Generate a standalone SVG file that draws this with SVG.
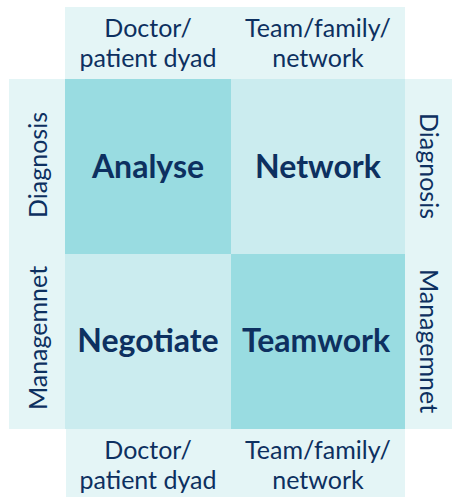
<svg xmlns="http://www.w3.org/2000/svg" width="452" height="497" viewBox="0 0 452 497">
<style>
.band{fill:#E4F5F6}
.dark{fill:#99DCE1}
.light{fill:#CBECEF}
.lab{font-family:Lato,"Liberation Sans",sans-serif;font-size:25px;fill:#0D3060;text-anchor:middle}
.big{font-family:Lato,"Liberation Sans",sans-serif;font-size:32px;font-weight:bold;fill:#0D3060;text-anchor:middle}
</style>
<rect width="452" height="497" fill="#ffffff"/>
<g id="top-band">
<rect class="band" x="65" y="7" width="340" height="72"/>
<text class="lab" x="148" y="37">Doctor/</text>
<text class="lab" x="148" y="67">patient dyad</text>
<text class="lab" x="318" y="37">Team/family/</text>
<text class="lab" x="318" y="67">network</text>
</g>
<g id="bottom-band">
<rect class="band" x="66" y="429" width="339" height="68"/>
<text class="lab" x="148" y="459">Doctor/</text>
<text class="lab" x="148" y="489">patient dyad</text>
<text class="lab" x="318" y="459">Team/family/</text>
<text class="lab" x="318" y="489">network</text>
</g>
<g id="left-band">
<rect class="band" x="9" y="79" width="56" height="350"/>
<text class="lab" transform="translate(47,165) rotate(-90)">Diagnosis</text>
<text class="lab" transform="translate(47,338) rotate(-90)">Managemnet</text>
</g>
<g id="right-band">
<rect class="band" x="405" y="79" width="47" height="350"/>
<text class="lab" transform="translate(420,166) rotate(90)">Diagnosis</text>
<text class="lab" transform="translate(420,341) rotate(90)">Managemnet</text>
</g>
<g id="analyse">
<rect class="dark" x="65" y="79" width="166" height="175"/>
<text class="big" x="148" y="178">Analyse</text>
</g>
<g id="network">
<rect class="light" x="231" y="79" width="174" height="175"/>
<text class="big" x="318" y="178">Network</text>
</g>
<g id="negotiate">
<rect class="light" x="65" y="254" width="166" height="175"/>
<text class="big" x="148" y="352">Negotiate</text>
</g>
<g id="teamwork">
<rect class="dark" x="231" y="254" width="174" height="175"/>
<text class="big" x="316" y="352">Teamwork</text>
</g>
<g id="connectors"/>
</svg>
